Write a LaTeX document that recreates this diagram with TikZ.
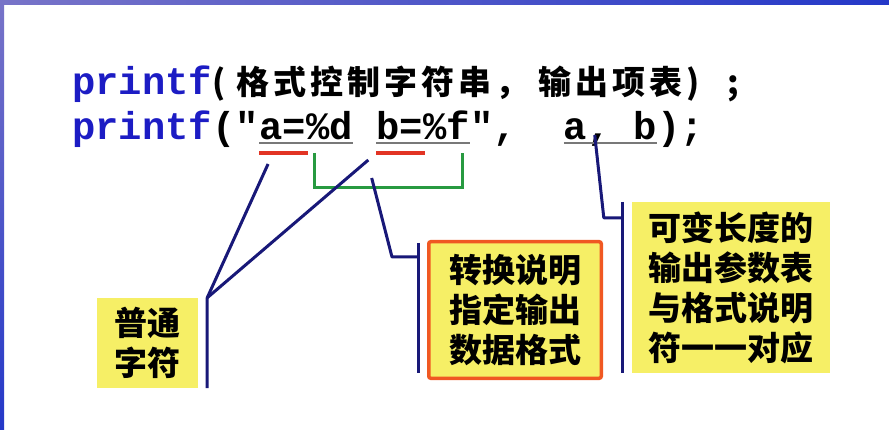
\documentclass[tikz,border=0pt]{standalone}
\usepackage{fontspec}
\usetikzlibrary{calc}
\newfontfamily\codefont{Liberation Mono}
\newfontfamily\cjkfont{Noto Sans CJK SC}
\newfontfamily\cjkspaced{Noto Sans CJK SC}[LetterSpace=12]

\definecolor{codeblue}{RGB}{28,28,196}
\definecolor{linenavy}{RGB}{24,24,120}
\definecolor{markred}{RGB}{226,52,36}
\definecolor{markgreen}{RGB}{40,154,64}
\definecolor{noteyellow}{RGB}{246,239,102}
\definecolor{boxorange}{RGB}{240,88,34}
\definecolor{ulgray}{RGB}{120,120,120}
\definecolor{bandblue}{RGB}{36,56,200}
\definecolor{bandlilac}{RGB}{120,116,200}

\tikzset{
  code/.style={font=\codefont\bfseries\fontsize{38.8}{40}\selectfont,
    inner sep=0pt, anchor=base west},
  cjkline/.style={font=\cjkspaced\bfseries\fontsize{33}{40}\selectfont,
    inner sep=0pt, anchor=base west},
  note/.style={fill=noteyellow, align=center, inner sep=0pt,
    font=\cjkfont\bfseries\fontsize{33}{40}\selectfont},
  conn/.style={draw=linenavy, line width=3pt, line join=round},
  uline/.style={draw=ulgray, line width=1.6pt},
  redmark/.style={draw=markred, line width=3.5pt},
  bracket/.style={draw=markgreen, line width=3pt},
}

\begin{document}
\begin{tikzpicture}[x=1pt, y=-1pt]
  \useasboundingbox (0,0) rectangle (889,430);
  \fill[white] (0,0) rectangle (889,430);
  % window frame
  \shade[left color=bandlilac, right color=bandblue] (0,0) rectangle (889,5);
  \shade[top color=bandlilac, bottom color=bandblue] (0,0) rectangle (4,430);

  % general form
  \node[code, text=codeblue] (fn1) at (72,95) {printf};
  \node[cjkline] (args1) at (fn1.base east)
    {(\hspace{11pt}格式控制字符串，\hspace{10pt}输出项表)\hspace{28pt};};

  % concrete call, one node per token
  \node[code, text=codeblue] (fn2) at (72,140) {printf};
  \node[code] (q2) at (fn2.base east) {("};
  \node[code] (tA) at (q2.base east) {a=};
  \node[code] (tD) at (tA.base east) {\%d};
  \node[code] (tB) at ([xshift=23.28pt]tD.base east) {b=};
  \node[code] (tF) at (tB.base east) {\%f};
  \node[code] (q3) at (tF.base east) {",};
  \node[code] (tAB) at ([xshift=46.56pt]q3.base east) {a, b};
  \node[code] (e2) at (tAB.base east) {);};

  % underlines of the tokens
  \foreach \t in {tA,tD,tB,tF,tAB}
    \draw[uline] ($(\t.base west)+(0,3)$) -- ($(\t.base east)+(0,3)$);

  % ordinary characters
  \draw[redmark] ($(tA.base west)+(0,13)$) -- ($(tA.base east)+(2,13)$);
  \draw[redmark] ($(tB.base west)+(0,13)$) -- ($(tB.base east)+(2,13)$);

  % conversion specifiers
  \draw[bracket] ($(tD.base west)+(8.5,13)$) |- ($(tF.base east)+(-7.5,48)$)
    -- ($(tF.base east)+(-7.5,13)$);

  % notes
  \node[note, minimum width=101pt, minimum height=90pt] (box1)
    at (147.5,343) {普通\\字符};
  \node[note, draw=boxorange, line width=3.5pt, rounded corners=2pt,
    minimum width=172.5pt, minimum height=136.5pt] (box2)
    at (515,310) {转换说明\\指定输出\\数据格式};
  \node[note, minimum width=198pt, minimum height=171pt] (box3)
    at (731,287.5) {可变长度的\\输出参数表\\与格式说明\\符一一对应};

  % leaders to the notes
  \coordinate (j1) at ($(box1.north east)+(9,0)$);
  \draw[conn] ($(tA.base west)+(9,24)$) -- (j1) -- ($(box1.south east)+(9,0)$);
  \draw[conn] ($(tB.base west)+(-8,20)$) -- (j1);

  \coordinate (b2t) at ($(box2.north west)+(-9,3)$);
  \coordinate (b2b) at ($(box2.south west)+(-9,-7)$);
  \draw[conn] (b2t) -- (b2b);
  \draw[conn] ($(tB.base west)+(-4.6,38)$) -- ($(b2t)+(-26,14)$) -- ($(b2t)+(0,14)$);

  \coordinate (b3t) at ($(box3.north west)+(-9,0)$);
  \coordinate (b3b) at ($(box3.south west)+(-9,0)$);
  \draw[conn] (b3t) -- (b3b);
  \draw[conn] ($(tAB.base west)+(31,-5)$) -- ($(b3t)+(-19,16)$) -- ($(b3t)+(0,16)$);
\end{tikzpicture}
\end{document}
